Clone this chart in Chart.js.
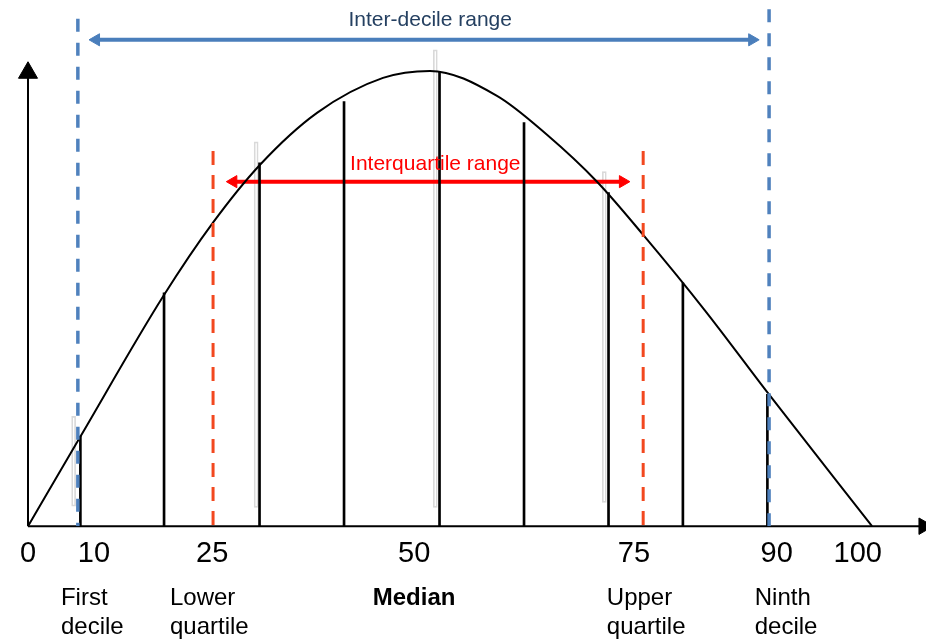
<!DOCTYPE html>
<html>
<head>
<meta charset="utf-8">
<script src="https://cdn.jsdelivr.net/npm/chart.js@4.4.1/dist/chart.umd.min.js"></script>
<style>
  html, body { margin: 0; padding: 0; background: #fff; overflow: hidden; }
  canvas { display: block; }
</style>
</head>
<body>
<canvas id="chart" width="926" height="641"></canvas>
<script>
// Axis labels and where they sit along the axis.
const tickLabels = ['0', '10', '25', '50', '75', '90', '100'];
const tickAt = [0, 7.8, 21.8, 45.7, 71.7, 88.6, 98.2];

// Names under the axis.
const markNames = [['First', 'decile'], ['Lower', 'quartile'], ['Median'], ['Upper', 'quartile'], ['Ninth', 'decile']];
const markAt = [3.9, 16.8, 40.8, 68.5, 86.0];

// Distribution curve.
const curveX = [0, 6.15, 15.98, 21.89, 27.46, 34.2, 42.01, 47.57, 55.5, 61.42, 67.34, 72.78, 80.12, 87.69, 99.88];
const curveY = [0, 19.42, 50.19, 66.34, 79.0, 90.34, 97.98, 99.51, 94.05, 85.54, 75.28, 63.72, 47.13, 28.8, 0];

// Vertical strips under the curve.
const stripX = [6.2, 16.1, 27.4, 37.4, 48.7, 58.7, 68.7, 77.5, 87.5];
const stripY = [19.7, 51.0, 79.4, 92.8, 99.4, 88.2, 72.9, 53.2, 28.8];

// Faint outlines behind some strips.
const ghostX = [5.4, 27.0, 48.2, 68.2];
const ghostLow = [4.4, 4.1, 4.1, 5.2];
const ghostHigh = [24.0, 84.0, 104.1, 77.5];

// Dashed markers.
const decileX = [5.9, 87.7];
const decileTop = [110.9, 113.0];
const quartileX = [21.9, 72.8];
const quartileTop = [82.0, 82.0];

// Range arrows: [start, end, level].
const decileRange = [8.05, 85.7, 106.3];
const quartileRange = [24.3, 70.4, 75.3];

// Range names and their anchors.
const rangeNames = ['Inter-decile range', 'Interquartile range'];
const rangeNameAt = [[47.6, 109.3], [48.2, 77.9]];

const xMax = 106.27, yMax = 115;
const yArrowTop = 99.1, xArrowEnd = 106.0;

const FONT = '"Liberation Sans", Arial, sans-serif';
const BLUE = '#4F81BD';
const ORANGE = '#F2481F';

const pts = (xs, ys) => xs.map((x, i) => ({x, y: ys[i]}));

const dashed = (x, top, color, width, dash) => ({
  type: 'line',
  data: [{x, y: top}, {x, y: 0}],
  borderColor: color,
  borderWidth: width,
  borderDash: dash,
  pointRadius: 0,
  tension: 0,
});

const arrow = (r, color) => ({
  type: 'line',
  data: [{x: r[0], y: r[2]}, {x: r[1], y: r[2]}],
  borderColor: color,
  borderWidth: 4,
  pointStyle: 'triangle',
  pointRadius: 7,
  pointRotation: (c) => c.dataIndex === 0 ? -90 : 90,
  pointBackgroundColor: color,
  pointBorderColor: color,
  pointBorderWidth: 1,
  tension: 0,
});

const axisLine = (data, rot, radius) => ({
  type: 'line',
  data,
  borderColor: '#000',
  borderWidth: 2,
  pointStyle: 'triangle',
  pointRadius: (c) => c.dataIndex === 1 ? radius : 0,
  pointRotation: rot,
  pointBackgroundColor: '#000',
  pointBorderColor: '#000',
  pointBorderWidth: 1,
  clip: false,
  tension: 0,
});

// Text labels drawn at scale positions.
const diagramText = {
  id: 'diagramText',
  afterDatasetsDraw(chart) {
    const {ctx, scales: {x, y}, chartArea} = chart;
    ctx.save();
    ctx.textBaseline = 'alphabetic';
    ctx.textAlign = 'center';
    ctx.font = '21px ' + FONT;
    ctx.fillStyle = '#254061';
    ctx.fillText(rangeNames[0], x.getPixelForValue(rangeNameAt[0][0]), y.getPixelForValue(rangeNameAt[0][1]));
    ctx.fillStyle = '#FF0000';
    ctx.fillText(rangeNames[1], x.getPixelForValue(rangeNameAt[1][0]), y.getPixelForValue(rangeNameAt[1][1]));

    ctx.textAlign = 'left';
    ctx.fillStyle = '#000';
    markNames.forEach((lines, i) => {
      ctx.font = (lines[0] === 'Median' ? 'bold ' : '') + '24px ' + FONT;
      lines.forEach((t, j) => {
        ctx.fillText(t, x.getPixelForValue(markAt[i]), chartArea.bottom + 79 + j * 29);
      });
    });
    ctx.restore();
  },
};

const ctx = document.getElementById('chart').getContext('2d');
new Chart(ctx, {
  type: 'line',
  data: {
    datasets: [
      dashed(decileX[0], decileTop[0], BLUE, 3.5, [13, 11]),
      dashed(decileX[1], decileTop[1], BLUE, 3.5, [13, 11]),
      dashed(quartileX[0], quartileTop[0], ORANGE, 3, [14, 10]),
      dashed(quartileX[1], quartileTop[1], ORANGE, 3, [14, 10]),
      {
        type: 'line',
        data: pts(curveX, curveY),
        borderColor: '#000',
        borderWidth: 2,
        pointRadius: 0,
        cubicInterpolationMode: 'monotone',
      },
      {
        type: 'bar',
        data: pts(stripX, stripY),
        backgroundColor: '#000',
        barThickness: 2,
        grouped: false,
      },
      arrow(quartileRange, '#FF0000'),
      arrow(decileRange, '#4A7EBB'),
      {
        type: 'bar',
        data: ghostX.map((x, i) => ({x, y: [ghostLow[i], ghostHigh[i]]})),
        backgroundColor: 'rgba(255,255,255,0)',
        borderColor: '#d9d9d9',
        borderWidth: 1,
        borderSkipped: false,
        barThickness: 4,
        grouped: false,
      },
      axisLine([{x: 0, y: 0}, {x: 0, y: yArrowTop}], 0, 11),
      axisLine([{x: 0, y: 0}, {x: xArrowEnd, y: 0}], 90, 9.5),
    ],
  },
  options: {
    responsive: false,
    animation: false,
    layout: {
      autoPadding: false,
      padding: {left: 28, right: 0, top: 0, bottom: 60},
    },
    plugins: {
      legend: {display: false},
      tooltip: {enabled: false},
    },
    scales: {
      x: {
        type: 'linear',
        min: 0,
        max: xMax,
        offset: false,
        grid: {display: false, drawTicks: false},
        border: {display: false},
        afterBuildTicks: (scale) => {
          scale.ticks = tickAt.map((v) => ({value: v}));
        },
        ticks: {
          autoSkip: false,
          maxRotation: 0,
          padding: 10,
          color: '#000',
          font: {family: FONT, size: 29},
          callback: (v, i) => tickLabels[i],
        },
      },
      y: {
        type: 'linear',
        min: 0,
        max: yMax,
        display: false,
      },
    },
  },
  plugins: [diagramText],
});
</script>
</body>
</html>
